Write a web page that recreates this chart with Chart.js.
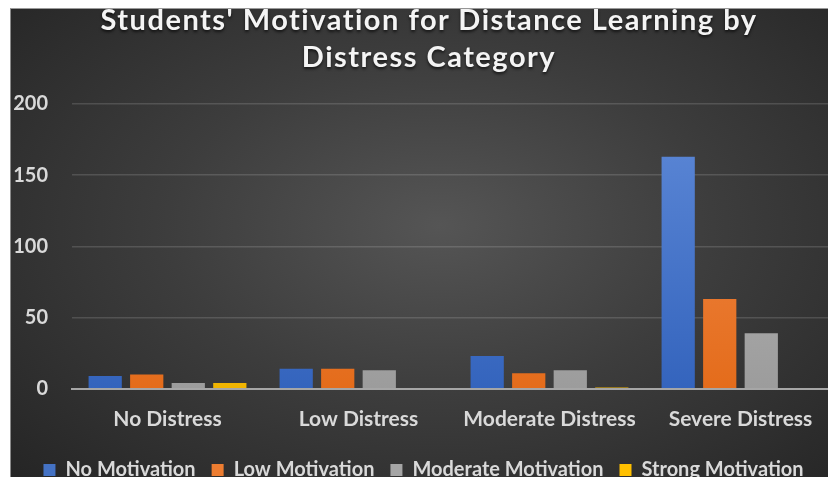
<!DOCTYPE html>
<html lang="en">
<head>
  <meta charset="UTF-8">
  <title>Students' Motivation for Distance Learning</title>
  <style>
    *{box-sizing:border-box;margin:0;padding:0}
    body{background:#fff;width:828px;height:477px;overflow:hidden;position:relative;font-family:Lato,"Open Sans",sans-serif;}
    /* dark card, a bit wider than the window so its right side is cut like the source */
    .card{
      position:absolute;left:10px;top:8px;width:826px;height:482px;
      background:radial-gradient(ellipse at 52% 45%, #555 0%, #3d3d3d 45%, #242424 100%);
      border-left:1px solid #8a8a8a;border-top:1px solid #9a9a9a;
    }
    .title{
      position:absolute;left:1px;top:-9px;width:834px;text-align:center;
      color:#f4f4f4;font-weight:700;font-size:29px;line-height:37px;letter-spacing:1.5px;
      text-shadow:0 2px 3px rgba(0,0,0,0.65);
    }
    canvas{display:block;}
  </style>
</head>
<body>
  <div class="card">
    <canvas id="chart"></canvas>
    <div class="title">Students' Motivation for Distance Learning by<br>Distress Category</div>
  </div>

  <script src="https://cdn.jsdelivr.net/npm/chart.js"></script>
  <script>
    const categories = ['No Distress', 'Low Distress', 'Moderate Distress', 'Severe Distress'];
    const noMotivation = [9, 14, 23, 163];
    const lowMotivation = [10, 14, 11, 63];
    const moderateMotivation = [4, 13, 13, 39];
    const strongMotivation = [4, 0, 1, 0];
    const yTicks = [0, 50, 100, 150, 200];

    const FONT = 'Lato, "Open Sans", sans-serif';
    const labelCol = '#d9d9d9';

    // vertical gradient, lighter at the top like the Excel bars
    function grad(top, bottom){
      return ctx => {
        const area = ctx.chart.chartArea;
        if(!area) return bottom;
        const g = ctx.chart.ctx.createLinearGradient(0, area.top, 0, area.bottom);
        g.addColorStop(0, top);
        g.addColorStop(1, bottom);
        return g;
      };
    }

    const ds = (label, data, top, bottom, solid) => ({
      label, data,
      backgroundColor: grad(top, bottom),
      borderWidth: 0,
      categoryPercentage: 0.87,
      barPercentage: 0.8,
      legendColor: solid
    });

    new Chart(document.getElementById('chart'), {
      type: 'bar',
      data: {
        labels: categories,
        datasets: [
          ds('No Motivation', noMotivation, '#5f8ad8', '#3464bd', '#4472c4'),
          ds('Low Motivation', lowMotivation, '#f28e52', '#e46c1b', '#ed7d31'),
          ds('Moderate Motivation', moderateMotivation, '#bdbdbd', '#9c9c9c', '#a5a5a5'),
          ds('Strong Motivation', strongMotivation, '#ffcc33', '#f0b400', '#ffc000')
        ]
      },
      options: {
        responsive: true,
        maintainAspectRatio: false,
        animation: false,
        layout: { padding: { left: 0, right: 0, top: 95, bottom: 0 } },
        plugins: {
          title: { display: false },
          legend: {
            position: 'bottom',
            labels: {
              color: labelCol,
              font: { family: FONT, size: 20, weight: 'bold' },
              boxWidth: 12, boxHeight: 12, padding: 16,
              generateLabels: chart => chart.data.datasets.map((d, i) => ({
                text: d.label, fillStyle: d.legendColor, strokeStyle: d.legendColor,
                lineWidth: 0, fontColor: labelCol, datasetIndex: i, hidden: false
              }))
            }
          },
          tooltip: { enabled: false }
        },
        scales: {
          x: {
            grid: { display: false, drawTicks: false },
            border: { display: true, color: '#a6a6a6', width: 2 },
            ticks: { color: labelCol, font: { family: FONT, size: 21, weight: 'bold' }, padding: 18 },
            afterFit: axis => { axis.height -= 6; }
          },
          y: {
            min: yTicks[0], max: yTicks[yTicks.length - 1],
            afterBuildTicks: axis => { axis.ticks = yTicks.map(v => ({ value: v })); },
            afterFit: axis => { axis.width = 61; },
            grid: { color: 'rgba(255,255,255,0.14)', lineWidth: 1.5, drawTicks: false },
            border: { display: false },
            ticks: { color: labelCol, font: { family: FONT, size: 20, weight: 'bold' }, padding: 24 }
          }
        }
      }
    });
  </script>
</body>
</html>
